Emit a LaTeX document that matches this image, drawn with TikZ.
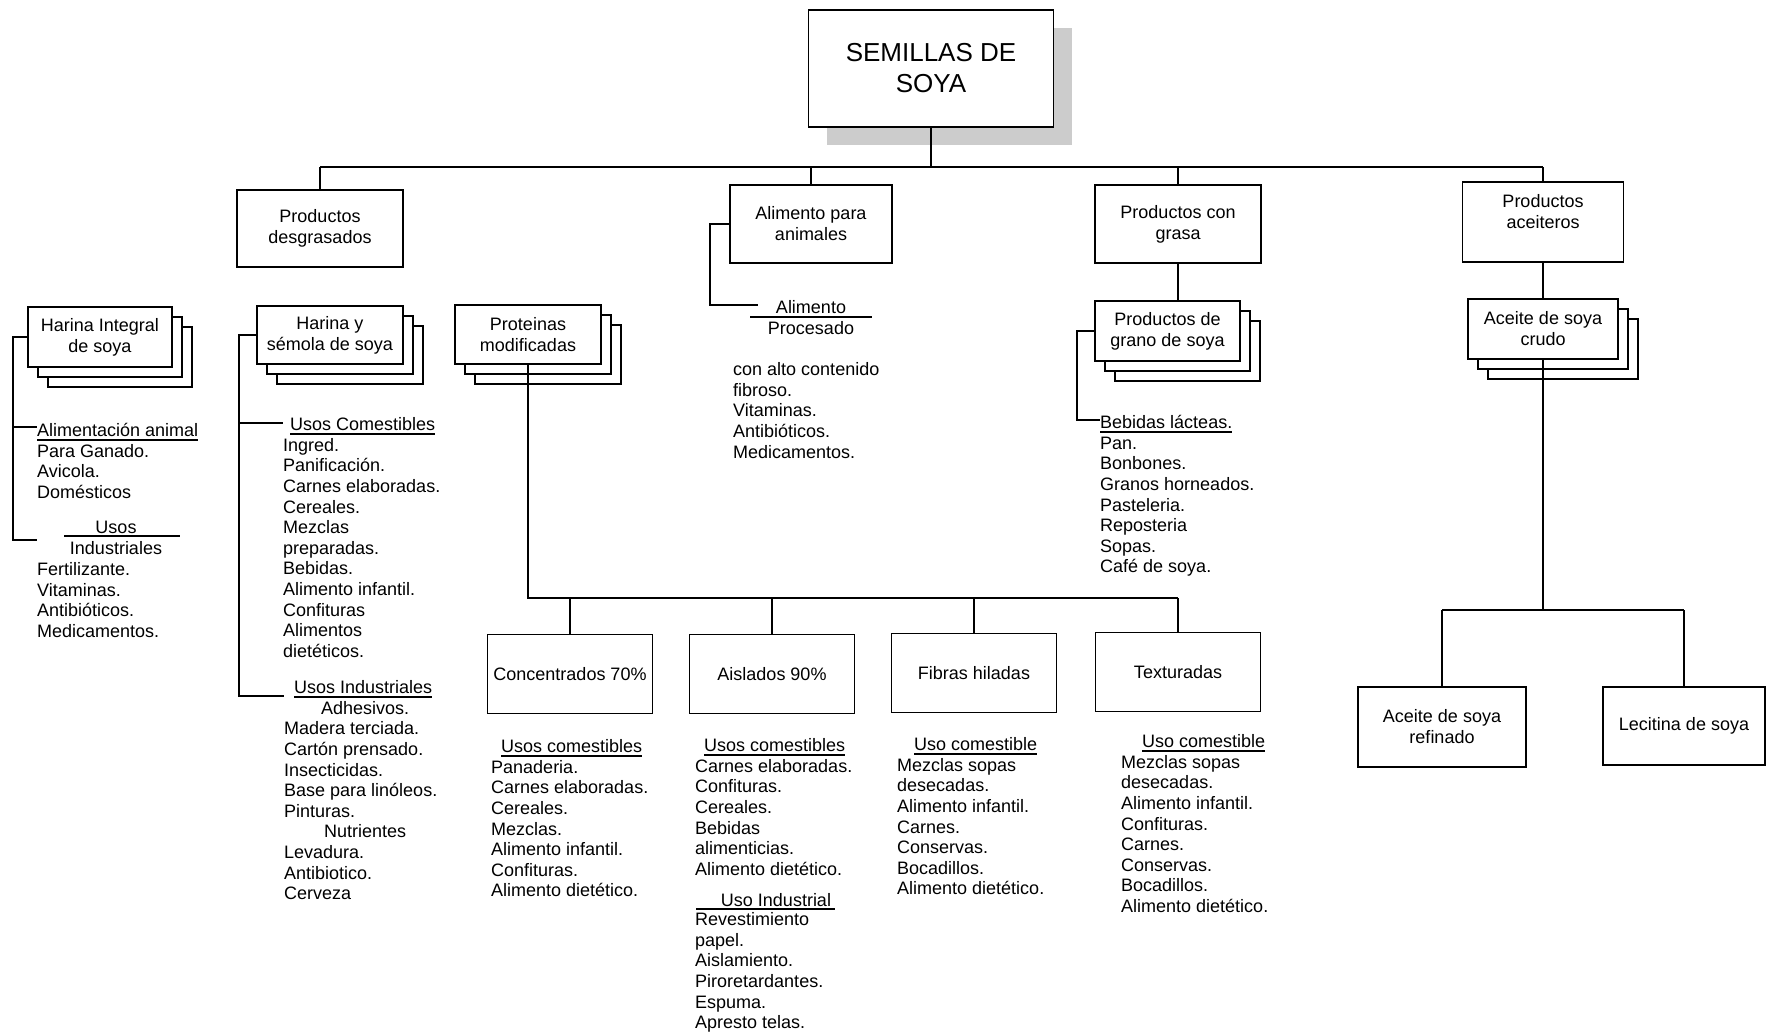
\documentclass[tikz,border=0pt]{standalone}
\usepackage{fontspec}
\setmainfont{Liberation Sans}
\usepackage{tikz}
\usetikzlibrary{shadows, positioning, calc}

% underline with a visible rule
\newcommand{\undl}[1]{\setbox0\hbox{#1}\rlap{\rule[-4pt]{\wd0}{1.3pt}}\box0}

\begin{document}
\begin{tikzpicture}[x=1pt, y=-1pt,
  ln/.style={line width=1.5pt},
  box/.style={draw, line width=1.8pt, fill=white, align=center, inner sep=2pt,
    font=\fontsize{18}{21}\selectfont},
  stack/.style={box, double copy shadow={shadow xshift=10pt, shadow yshift=-10pt}},
  lst/.style={anchor=north west, inner sep=0pt, align=left, font=\fontsize{18}{20.6}\selectfont},
  txt/.style={inner sep=0pt, font=\fontsize{18}{20.6}\selectfont}]
\useasboundingbox (0,0) rectangle (1769,1035);

% root
\node[draw, line width=1.8pt, fill=white, align=center, minimum width=245pt, minimum height=117pt,
  font=\fontsize{26}{31}\selectfont,
  drop shadow={shadow xshift=18pt, shadow yshift=-18pt, fill=black!20, opacity=1}]
  (semillas) at (931,68.5) {SEMILLAS DE\\SOYA};

% first level
\node[box, minimum width=166pt, minimum height=77pt] (desg) at (320,228.5) {Productos\\desgrasados};
\node[box, minimum width=162pt, minimum height=78pt] (anim) at (811,224) {Alimento para\\animales};
\node[box, minimum width=166pt, minimum height=78pt] (grasa) at (1178,224) {Productos con\\grasa};
\node[box, minimum width=161pt, minimum height=80pt] (aceit) at (1543,222) {Productos\\aceiteros\\\mbox{}};

\coordinate (busL) at (320,167);
\draw[ln] (semillas.south) -- (semillas.south |- busL);
\draw[ln] (desg.north |- busL) -- (aceit.north |- busL);
\foreach \b in {desg,anim,grasa,aceit}
  \draw[ln] (\b.north) -- (\b.north |- busL);

% stacked boxes
\node[stack, minimum width=144pt, minimum height=60pt] (hint) at (100,337) {Harina Integral\\de soya};
\node[stack, minimum width=146pt, minimum height=58pt] (hsem) at (330,335) {Harina y\\sémola de soya};
\node[stack, minimum width=146pt, minimum height=59pt] (prot) at (528,334.5) {Proteinas\\modificadas};
\node[stack, minimum width=145pt, minimum height=60pt] (grano) at (1167.5,331) {Productos de\\grano de soya};
\node[stack, minimum width=150pt, minimum height=60pt] (crudo) at (1543,329) {Aceite de soya\\crudo};

\draw[ln] (grasa.south) -- (grasa.south |- grano.north);
\draw[ln] (aceit.south) -- (crudo.north);

% harina integral
\node[lst] (alim) at (37,422) {\strut\undl{Alimentación animal}\\Para Ganado.\\Avicola.\\Domésticos};
\node[txt] (usos) at (116,527) {Usos};
\node[txt] (indus) at (116,548) {Industriales};
\draw[ln] (64,536) -- (180,536);
\node[lst] (fert) at (37,561) {\strut Fertilizante.\\Vitaminas.\\Antibióticos.\\Medicamentos.};
\coordinate (hintA) at (13,427);
\coordinate (hintB) at (13,540);
\draw[ln] (hint.west) -| (hintB) -- (hintB -| fert.west);
\draw[ln] (hintA) -- (hintA -| alim.west);

% harina y semola
\node[lst] (usco) at (283,416) {\strut\hspace*{7pt}\undl{Usos Comestibles}\\Ingred.\\Panificación.\\Carnes elaboradas.\\Cereales.\\Mezclas\\preparadas.\\Bebidas.\\Alimento infantil.\\Confituras\\Alimentos\\dietéticos.};
\node[lst] (usind) at (284,679) {\strut\hspace*{10pt}\undl{Usos Industriales}\\\hspace*{37pt}Adhesivos.\\Madera terciada.\\Cartón prensado.\\Insecticidas.\\Base para linóleos.\\Pinturas.\\\hspace*{40pt}Nutrientes\\Levadura.\\Antibiotico.\\Cerveza};
\coordinate (hsemA) at (239,423);
\coordinate (hsemB) at (239,696);
\draw[ln] (hsem.west) -| (hsemB) -- (hsemB -| usind.west);
\draw[ln] (hsemA) -- (hsemA -| usco.west);

% alimento para animales
\node[txt] (alimp) at (811,307) {Alimento};
\node[txt] (proc) at (811,328) {Procesado};
\draw[ln] (750,317) -- (872,317);
\node[lst] (fibro) at (733,361) {\strut con alto contenido\\fibroso.\\Vitaminas.\\Antibióticos.\\Medicamentos.};
\coordinate (animB) at (710,305);
\coordinate (animE) at (758,305);
\draw[ln] (anim.west) -| (animB) -- (animE);

% productos de grano
\node[lst] (bebi) at (1100,414) {\strut\undl{Bebidas lácteas.}\\Pan.\\Bonbones.\\Granos horneados.\\Pasteleria.\\Reposteria\\Sopas.\\Café de soya.};
\coordinate (granB) at (1077,420);
\draw[ln] (grano.west) -| (granB) -- (granB -| bebi.west);

% proteinas modificadas
\node[box, minimum width=165pt, minimum height=79pt] (conc) at (570,674) {Concentrados 70\%};
\node[box, minimum width=165pt, minimum height=79pt] (aisl) at (772,674) {Aislados 90\%};
\node[box, minimum width=165pt, minimum height=79pt] (fibr) at (974,673) {Fibras hiladas};
\node[box, minimum width=165pt, minimum height=79pt] (textu) at (1178,672) {Texturadas};
\coordinate (pbus) at (528,598);
\draw[ln] (prot.south) -- (pbus) -- (pbus -| textu.north);
\foreach \b in {conc,aisl,fibr,textu}
  \draw[ln] (\b.north) -- (\b.north |- pbus);

\node[lst] (concl) at (491,738) {\strut\hspace*{10pt}\undl{Usos comestibles}\\Panaderia.\\Carnes elaboradas.\\Cereales.\\Mezclas.\\Alimento infantil.\\Confituras.\\Alimento dietético.};
\node[lst] (aisll) at (695,737) {\strut\hspace*{9pt}\undl{Usos comestibles}\\Carnes elaboradas.\\Confituras.\\Cereales.\\Bebidas\\alimenticias.\\Alimento dietético.};
\node[txt] (usoind) at (776,900) {Uso Industrial};
\draw[ln] (696,909) -- (835,909);
\node[lst] (revl) at (695,911) {\strut Revestimiento\\papel.\\Aislamiento.\\Piroretardantes.\\Espuma.\\Apresto telas.};
\node[lst] (fibl) at (897,736) {\strut\hspace*{17pt}\undl{Uso comestible}\\Mezclas sopas\\desecadas.\\Alimento infantil.\\Carnes.\\Conservas.\\Bocadillos.\\Alimento dietético.};
\node[lst] (texl) at (1121,733) {\strut\hspace*{21pt}\undl{Uso comestible}\\Mezclas sopas\\desecadas.\\Alimento infantil.\\Confituras.\\Carnes.\\Conservas.\\Bocadillos.\\Alimento dietético.};

% aceite crudo
\node[box, minimum width=168pt, minimum height=80pt] (refi) at (1442,727) {Aceite de soya\\refinado};
\node[box, minimum width=162pt, minimum height=78pt] (leci) at (1684,726) {Lecitina de soya};
\coordinate (abus) at (1543,610);
\draw[ln] (crudo.south) -- (abus);
\draw[ln] (refi.north |- abus) -- (leci.north |- abus);
\foreach \b in {refi,leci}
  \draw[ln] (\b.north) -- (\b.north |- abus);
\end{tikzpicture}
\end{document}
